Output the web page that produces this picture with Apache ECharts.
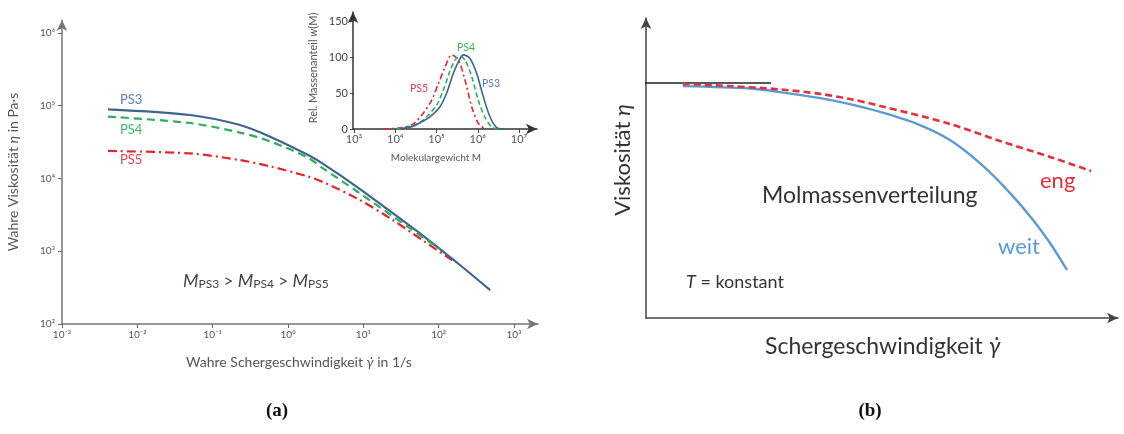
<!DOCTYPE html>
<html>
<head>
<meta charset="utf-8">
<script src="https://cdn.jsdelivr.net/npm/echarts@6/dist/echarts.min.js"></script>
<style>html,body{margin:0;padding:0;background:#fff;}#c{width:1124px;height:434px;}</style>
</head>
<body>
<div id="c"></div>
<script>
// ---- (a) main: viscosity vs shear rate (log-log) ----
const shearPS3 = [0.00408, 0.0501, 0.231, 0.578, 1.85, 2.92, 8.2, 22.7, 62.8, 174.6, 483];
const viscPS3  = [89300, 74600, 54300, 37600, 21000, 15850, 7690, 3550, 1620, 700, 292];
const shearPS4 = [0.00408, 0.0501, 0.231, 0.578, 1.85, 2.92, 8.2, 22.7, 62.8, 104.7];
const viscPS4  = [70800, 57900, 42700, 32400, 19200, 13800, 6680, 3200, 1530, 1070];
const shearPS5 = [0.00408, 0.0501, 0.231, 0.578, 1.85, 2.92, 8.2, 22.7, 62.8, 157];
const viscPS5  = [23900, 22100, 17900, 14700, 10640, 8930, 5330, 2840, 1390, 733];

// ---- (a) inset: molar mass distribution ----
const molPS3 = [13000, 27400, 43800, 69500, 121600, 176600, 255000, 337000, 447000, 649000, 944000, 1360000, 1980000, 2880000, 4580000];
const wPS3   = [0, 4, 10, 17, 31, 50, 77, 93, 103, 98, 77, 45, 17, 2, 0];
const molPS4 = [11000, 27400, 43800, 57800, 101000, 146000, 212000, 281000, 371000, 491000, 713000, 1030000, 1500000, 2180000, 3100000];
const wPS4   = [0, 5, 11, 17, 33, 54, 80, 96, 101, 96, 73, 40, 16, 3, 0];
const molPS5 = [5050, 15000, 27400, 47900, 76500, 111000, 161000, 233000, 337000, 491000, 713000, 1030000, 1500000];
const wPS5   = [0, 2, 7, 22, 40, 63, 86, 103, 96, 68, 31, 8, 0];

// ---- (b) schematic ----
const xWeit = [7.8, 22.0, 28.4, 36.9, 43.2, 49.6, 57.4, 64.4, 71.4, 77.1, 82.0, 85.6, 89.2];
const yWeit = [77.3, 76.5, 75.3, 73.3, 71.3, 68.7, 64.7, 59.3, 50.7, 41.7, 32.7, 25, 16];
const xEng  = [7.8, 17.8, 28.4, 36.9, 43.2, 49.6, 64.4, 75.0, 85.6, 94.3];
const yEng  = [78, 77.3, 76.2, 74.7, 73, 70.7, 64.7, 59, 53.7, 49];
const refLineX = [-2, 26.5];
const refLineY = 78.3;

const FONT = 'Lato, "Open Sans", sans-serif';
const zip = (a, b) => a.map((v, i) => [v, b[i]]);
const SUP = {'-': '⁻', '0': '⁰', '1': '¹', '2': '²', '3': '³', '4': '⁴', '5': '⁵', '6': '⁶', '7': '⁷', '8': '⁸', '9': '⁹'};
const expLabel = v => '10' + String(Math.round(Math.log10(v))).split('').map(c => SUP[c]).join('');
const arrowAxis = (color, w) => ({show: true, onZero: false, symbol: ['none', 'arrow'], symbolSize: [8, 11], lineStyle: {color: color, width: w}});
const hidden = {axisTick: {show: false}, axisLabel: {show: false}, splitLine: {show: false}};

const C_BLUE = '#3f648c', C_GREEN = '#2fae58', C_RED = '#e3252f';
const lineBase = {type: 'line', smooth: 0.3, showSymbol: false};

const option = {
  animation: false,
  backgroundColor: '#fff',
  grid: [
    {left: 62, top: 33, width: 452, height: 291},
    {left: 62, top: 20, width: 476, height: 304},
    {left: 354, top: 21, width: 165, height: 108},
    {left: 353, top: 12, width: 184, height: 117},
    {left: 646, top: 18, width: 472, height: 300}
  ],
  xAxis: [
    {type: 'log', gridIndex: 0, min: 0.001, max: 1000, logBase: 10,
     axisLine: {show: false}, axisTick: {show: true, length: 4, lineStyle: {color: '#666'}},
     axisLabel: {formatter: expLabel, fontSize: 10, fontFamily: FONT, color: '#555', margin: 6}, splitLine: {show: false}},
    Object.assign({type: 'value', gridIndex: 1, min: 0, max: 1, axisLine: arrowAxis('#777', 1.5)}, hidden),
    {type: 'log', gridIndex: 2, min: 1000, max: 1e7, logBase: 10,
     axisLine: {show: false}, axisTick: {show: true, length: 4, lineStyle: {color: '#444'}},
     axisLabel: {formatter: expLabel, fontSize: 11, fontFamily: FONT, color: '#555', margin: 5}, splitLine: {show: false}},
    Object.assign({type: 'value', gridIndex: 3, min: 0, max: 1, axisLine: arrowAxis('#333', 1.5)}, hidden),
    Object.assign({type: 'value', gridIndex: 4, min: 0, max: 100, axisLine: arrowAxis('#444', 1.5)}, hidden)
  ],
  yAxis: [
    {type: 'log', gridIndex: 0, min: 100, max: 1e6, logBase: 10,
     axisLine: {show: false}, axisTick: {show: true, length: 4, lineStyle: {color: '#666'}},
     axisLabel: {formatter: expLabel, fontSize: 10, fontFamily: FONT, color: '#555', margin: 7}, splitLine: {show: false}},
    Object.assign({type: 'value', gridIndex: 1, min: 0, max: 1, axisLine: arrowAxis('#777', 1.5)}, hidden),
    {type: 'value', gridIndex: 2, min: 0, max: 150, interval: 50,
     axisLine: {show: false}, axisTick: {show: true, length: 4, lineStyle: {color: '#444'}},
     axisLabel: {fontSize: 11, fontFamily: FONT, color: '#444', margin: 6}, splitLine: {show: false}},
    Object.assign({type: 'value', gridIndex: 3, min: 0, max: 1, axisLine: arrowAxis('#333', 1.5)}, hidden),
    Object.assign({type: 'value', gridIndex: 4, min: 0, max: 100, axisLine: arrowAxis('#444', 1.5)}, hidden)
  ],
  series: [
    Object.assign({}, lineBase, {xAxisIndex: 0, yAxisIndex: 0, data: zip(shearPS5, viscPS5),
     lineStyle: {color: C_RED, width: 2.2, type: [9, 4, 2, 4]}}),
    Object.assign({}, lineBase, {xAxisIndex: 0, yAxisIndex: 0, data: zip(shearPS3, viscPS3),
     lineStyle: {color: C_BLUE, width: 2.2}}),
    Object.assign({}, lineBase, {xAxisIndex: 0, yAxisIndex: 0, data: zip(shearPS4, viscPS4),
     lineStyle: {color: C_GREEN, width: 2.2, type: [8, 5]}}),
    Object.assign({}, lineBase, {xAxisIndex: 2, yAxisIndex: 2, data: zip(molPS5, wPS5),
     lineStyle: {color: C_RED, width: 1.6, type: [6, 3, 2, 3]}}),
    Object.assign({}, lineBase, {xAxisIndex: 2, yAxisIndex: 2, data: zip(molPS4, wPS4),
     lineStyle: {color: C_GREEN, width: 1.6, type: [5, 3]}}),
    Object.assign({}, lineBase, {xAxisIndex: 2, yAxisIndex: 2, data: zip(molPS3, wPS3),
     lineStyle: {color: C_BLUE, width: 1.6}}),
    {type: 'line', xAxisIndex: 4, yAxisIndex: 4, data: refLineX.map(x => [x, refLineY]), clip: false, showSymbol: false,
     lineStyle: {color: '#222', width: 1.5}},
    Object.assign({}, lineBase, {xAxisIndex: 4, yAxisIndex: 4, data: zip(xWeit, yWeit),
     lineStyle: {color: '#5b9bd5', width: 2.4}}),
    Object.assign({}, lineBase, {xAxisIndex: 4, yAxisIndex: 4, data: zip(xEng, yEng),
     lineStyle: {color: '#e3303a', width: 2.6, type: [7, 4]}})
  ],
  graphic: [
    // (a) main labels
    {type: 'text', x: 120, y: 100, style: {text: 'PS3', fill: '#5b7db8', fontSize: 13, fontFamily: FONT, verticalAlign: 'middle'}},
    {type: 'text', x: 120, y: 130, style: {text: 'PS4', fill: '#3cb862', fontSize: 13, fontFamily: FONT, verticalAlign: 'middle'}},
    {type: 'text', x: 120, y: 160, style: {text: 'PS5', fill: '#e2414b', fontSize: 13, fontFamily: FONT, verticalAlign: 'middle'}},
    {type: 'text', x: 183, y: 279, style: {
      text: '{m|M}{s|PS3}{o| > }{m|M}{s|PS4}{o| > }{m|M}{s|PS5}', verticalAlign: 'middle',
      rich: {
        m: {fontSize: 18, fontStyle: 'italic', fontFamily: FONT, fill: '#444', lineHeight: 22, verticalAlign: 'bottom'},
        s: {fontSize: 12, fontFamily: FONT, fill: '#444', lineHeight: 14, verticalAlign: 'bottom'},
        o: {fontSize: 17, fontFamily: FONT, fill: '#444', lineHeight: 22, verticalAlign: 'bottom'}
      }}},
    {type: 'text', x: 13, y: 172, rotation: Math.PI / 2, style: {
      text: 'Wahre Viskosität {i|η} in Pa·s', align: 'center', verticalAlign: 'middle',
      fontSize: 14, fontFamily: FONT, fill: '#555',
      rich: {i: {fontSize: 14, fontStyle: 'italic', fontFamily: FONT, fill: '#555'}}}},
    {type: 'text', x: 299, y: 362, style: {
      text: 'Wahre Schergeschwindigkeit {i|γ̇} in 1/s', align: 'center', verticalAlign: 'middle',
      fontSize: 14, fontFamily: FONT, fill: '#555',
      rich: {i: {fontSize: 14, fontStyle: 'italic', fontFamily: FONT, fill: '#555'}}}},
    // inset labels
    {type: 'text', x: 313, y: 68, rotation: Math.PI / 2, style: {
      text: 'Rel. Massenanteil {i|w}(M)', align: 'center', verticalAlign: 'middle',
      fontSize: 11, fontFamily: FONT, fill: '#555',
      rich: {i: {fontSize: 11, fontStyle: 'italic', fontFamily: FONT, fill: '#555'}}}},
    {type: 'text', x: 436, y: 158, style: {text: 'Molekulargewicht M', align: 'center', verticalAlign: 'middle', fontSize: 10, fontFamily: FONT, fill: '#555'}},
    {type: 'text', x: 482, y: 84, style: {text: 'PS3', fill: '#5b7db8', fontSize: 10.5, fontFamily: FONT, verticalAlign: 'middle'}},
    {type: 'text', x: 457, y: 48, style: {text: 'PS4', fill: '#3cb862', fontSize: 10.5, fontFamily: FONT, verticalAlign: 'middle'}},
    {type: 'text', x: 410, y: 89, style: {text: 'PS5', fill: '#e2414b', fontSize: 10.5, fontFamily: FONT, verticalAlign: 'middle'}},
    // (b) labels
    {type: 'text', x: 623, y: 160, rotation: Math.PI / 2, style: {
      text: 'Viskosität {i|η}', align: 'center', verticalAlign: 'middle',
      fontSize: 22, fontFamily: FONT, fill: '#333',
      rich: {i: {fontSize: 22, fontStyle: 'italic', fontFamily: FONT, fill: '#333'}}}},
    {type: 'text', x: 762, y: 196, style: {text: 'Molmassenverteilung', fontSize: 23, fontFamily: FONT, fill: '#333', verticalAlign: 'middle'}},
    {type: 'text', x: 1040, y: 181, style: {text: 'eng', fontSize: 22, fontFamily: FONT, fill: '#e3303a', verticalAlign: 'middle'}},
    {type: 'text', x: 998, y: 247, style: {text: 'weit', fontSize: 22, fontFamily: FONT, fill: '#5b9bd5', verticalAlign: 'middle'}},
    {type: 'text', x: 686, y: 282, style: {
      text: '{i|T} = konstant', fontSize: 18, fontFamily: FONT, fill: '#333', verticalAlign: 'middle',
      rich: {i: {fontSize: 18, fontStyle: 'italic', fontFamily: FONT, fill: '#333'}}}},
    {type: 'text', x: 765, y: 347, style: {
      text: 'Schergeschwindigkeit {i|γ̇}', fontSize: 23, fontFamily: FONT, fill: '#333', verticalAlign: 'middle',
      rich: {i: {fontSize: 23, fontStyle: 'italic', fontFamily: FONT, fill: '#333'}}}},
    {type: 'text', x: 277, y: 411, style: {text: '(a)', align: 'center', verticalAlign: 'middle', fontSize: 19, fontWeight: 'bold', fontFamily: '"Liberation Serif", serif', fill: '#111'}},
    {type: 'text', x: 870, y: 411, style: {text: '(b)', align: 'center', verticalAlign: 'middle', fontSize: 19, fontWeight: 'bold', fontFamily: '"Liberation Serif", serif', fill: '#111'}}
  ]
};
const chart = echarts.init(document.getElementById('c'), null, {renderer: 'canvas'});
chart.setOption(option);
</script>
</body>
</html>
